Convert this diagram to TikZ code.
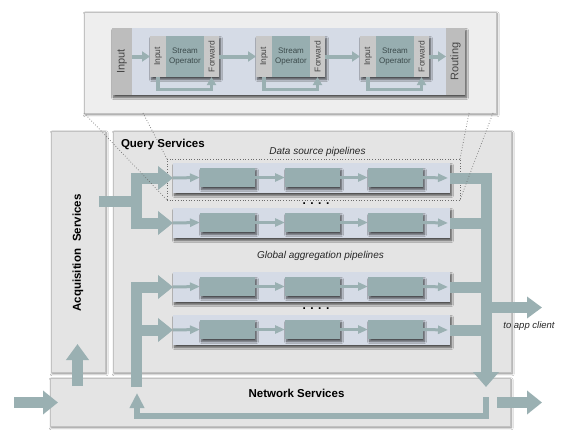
\documentclass[tikz,border=0pt]{standalone}
\usepackage{fontspec}
\setmainfont{Liberation Sans}
\usetikzlibrary{arrows.meta,shadows,shadows.blur,calc}
\definecolor{teal1}{HTML}{97AEB0}
\definecolor{arr}{HTML}{9AB0B2}
\definecolor{panelbg}{HTML}{E4E4E4}
\definecolor{panelbd}{HTML}{C2C2C2}
\definecolor{toppanel}{HTML}{EEEEEE}
\definecolor{pipebg}{HTML}{D5DBE6}
\definecolor{secgray}{HTML}{BDBDBD}
\definecolor{subgray}{HTML}{C8C8C8}
\definecolor{txtgray}{HTML}{454545}
\definecolor{sotxt}{HTML}{3C4B4C}
\begin{document}
\begin{tikzpicture}[x=1pt,y=-1pt,
  every node/.style={inner sep=0pt, outer sep=0pt},
  rbox/.style 2 args={anchor=north west, minimum width=#1, minimum height=#2},
  shad/.style={blur shadow={shadow xshift=1.2pt, shadow yshift=-1.8pt, shadow blur radius=2pt, shadow blur steps=6, shadow opacity=50}},
  pshad/.style={blur shadow={shadow xshift=1.5pt, shadow yshift=-2.5pt, shadow blur radius=2pt, shadow blur steps=6, shadow opacity=65}},
  panel/.style={fill=panelbg, draw=panelbd, line width=0.5pt, shad},
  toppan/.style={fill=toppanel, draw=panelbd, line width=0.5pt, shad},
  pipe/.style={fill=pipebg, draw=none, pshad},
  tbox/.style={fill=teal1, draw=none, pshad},
  sec/.style={fill=secgray, draw=none},
  subsec/.style={fill=subgray, draw=none},
  band/.style={draw=arr, line width=11pt, line join=miter, line cap=butt},
  bigtip/.style={-{Triangle[width=23pt,length=15pt]}},
  tarr/.style={draw=arr, line width=4pt, -{Triangle[width=10pt,length=8pt]}},
  pipearr/.style={draw=arr, line width=3pt, -{Triangle[width=8pt,length=10pt]}},
  fbarr/.style={draw=arr, line width=3.5pt, line join=miter, -{Triangle[width=9pt,length=8pt]}},
  dotln/.style={draw=gray!85!black, dotted, line width=0.7pt},
  bigbold/.style={font=\bfseries\fontsize{11.5}{13}\selectfont},
  itl/.style={font=\itshape\fontsize{10}{12}\selectfont, text=black!85},
]
\fill[white] (0,0) rectangle (563,431);
\useasboundingbox (0,0) rectangle (563,431);

% lower panels
\node[panel, rbox={54pt}{241pt}] (acq) at (51,131) {};
\node[panel, rbox={398pt}{241pt}] (qs) at (113,131) {};
\node[panel, rbox={460pt}{48pt}] (net) at (50,378) {};

% labels
\node[bigbold, rotate=90] (acqlbl) at (78,253) {Acquisition\hspace{0.6em}Services};
\node[bigbold, anchor=west] (qslbl) at (121,145) {Query Services};
\node[bigbold] (netlbl) at (296.5,393) {Network Services};
\node[itl] (dslbl) at (317.5,152) {Data source pipelines};
\node[itl] (galbl) at (320.5,256) {Global aggregation pipelines};
\node[font=\bfseries\fontsize{12}{12}\selectfont] (dots1) at (316,204) {. . . .};
\node[font=\bfseries\fontsize{12}{12}\selectfont] (dots2) at (316,309) {. . . .};
\node[itl, font=\itshape\fontsize{9.5}{11}\selectfont] (applbl) at (529,326) {to app client};

% pipelines
\foreach \i/\y in {1/163,2/208,3/272,4/315} {
  \node[pipe, rbox={277pt}{30pt}] (p\i) at (173,\y) {};
  \node[tbox, rbox={55pt}{19pt}] (p\i-a) at (200,\y+5) {};
  \node[tbox, rbox={55pt}{19pt}] (p\i-b) at (285,\y+5) {};
  \node[tbox, rbox={55pt}{19pt}] (p\i-c) at (368,\y+5) {};
  \draw[pipearr] (p\i.west) -- (p\i-a.west);
  \draw[pipearr] (p\i-a.east) -- (p\i-b.west);
  \draw[pipearr] (p\i-b.east) -- (p\i-c.west);
  \draw[pipearr] (p\i-c.east) -- ($(p\i.east)+(-2,0)$);
}

% selection box
\node[draw=gray!85!black, dotted, line width=0.7pt, rbox={293pt}{41pt}] (dsel) at (167,159) {};

% thick arrows, left feeds
\coordinate (aout) at (99,201.5);
\coordinate (j1) at (136,201.5);
\draw[band] (aout) -- (j1);
\draw[band,bigtip] (j1) -- (j1 |- p1.west) -- (p1.west);
\draw[band,bigtip] (j1) -- (j1 |- p2.west) -- (p2.west);
\coordinate (j2) at (136,387);
\draw[band,bigtip] (j2) -- (j2 |- p3.west) -- (p3.west);
\draw[band,bigtip] (j2 |- p4.west) -- (p4.west);

% right collector
\coordinate (rc) at (486,387);
\draw[band,-{Triangle[width=25pt,length=15pt]}] (p1.east) -- (rc |- p1.east) -- (rc);
\draw[band] (p2.east) -- (rc |- p2.east);
\draw[band] (p3.east) -- (rc |- p3.east);
\draw[band] (p4.east) -- (rc |- p4.east);
\coordinate (app) at (542,307.5);
\draw[band,-{Triangle[width=21pt,length=15pt]}] (rc |- app) -- (app);

% bottom arrows
\coordinate (inS) at (14,402.5);
\coordinate (inE) at (58,402.5);
\draw[band,bigtip] (inS) -- (inE);
\coordinate (upS) at (77.5,386);
\coordinate (upE) at (77.5,344);
\draw[band,-{Triangle[width=22pt,length=16pt]}] (upS) -- (upE);
\coordinate (outS) at (497,402.5);
\coordinate (outE) at (542,402.5);
\draw[band,bigtip] (outS) -- (outE);
\coordinate (rs) at (486,397);
\coordinate (re) at (137,393);
\draw[draw=arr, line width=6pt, line join=miter, -{Triangle[width=14pt,length=15pt]}] (rs) -- (rs |- 0,415.5) -- (re |- 0,415.5) -- (re);

% top panel
\node[toppan, rbox={412pt}{101pt}] (tp) at (84,12) {};
\node[pipe, rbox={353pt}{67pt}] (strip) at (112,28) {};
\node[sec, rbox={20pt}{67pt}] (inp) at (112,28) {};
\node[sec, rbox={19pt}{67pt}] (rout) at (446,28) {};
\node[rotate=90, font=\fontsize{11}{12}\selectfont, text=txtgray] (inplbl) at (inp.center) {Input};
\node[rotate=90, font=\fontsize{11}{12}\selectfont, text=txtgray] (routlbl) at (rout.center) {Routing};
\foreach \i/\x in {1/150,2/256,3/360} {
  \node[tbox, rbox={69pt}{41pt}] (op\i) at (\x,36) {};
  \node[subsec, rbox={16pt}{41pt}] (op\i-in) at (\x,36) {};
  \node[subsec, rbox={15pt}{41pt}, anchor=north east] (op\i-fw) at (op\i.north east) {};
  \node[font=\fontsize{8}{10}\selectfont, align=center, text=sotxt] (op\i-so) at ($(op\i-in.east)!0.5!(op\i-fw.west)$) {Stream\\Operator};
  \node[rotate=90, font=\fontsize{8.5}{9}\selectfont, text=txtgray] (op\i-inl) at (op\i-in.center) {Input};
  \node[rotate=90, font=\fontsize{8.5}{9}\selectfont, text=txtgray] (op\i-fwl) at (op\i-fw.center) {Forward};
  \draw[fbarr] (op\i-in.south) -- ++(0,12.5) -| (op\i-fw.south);
}
\draw[tarr] (inp.east |- op1.west) -- (op1.west);
\draw[tarr] (op1.east) -- (op2.west);
\draw[tarr] (op2.east) -- (op3.west);
\draw[tarr] (op3.east) -- (rout.west |- op3.east);

% zoom lines
\draw[dotln] (tp.south west) -- (dsel.south west);
\draw[dotln] ($(tp.south west)+(59,0)$) -- (dsel.north west);
\draw[dotln] ($(tp.south east)+(-27,0)$) -- (dsel.north east);
\draw[dotln] ($(tp.south east)+(-3,0)$) -- (dsel.south east);
\end{tikzpicture}
\end{document}
